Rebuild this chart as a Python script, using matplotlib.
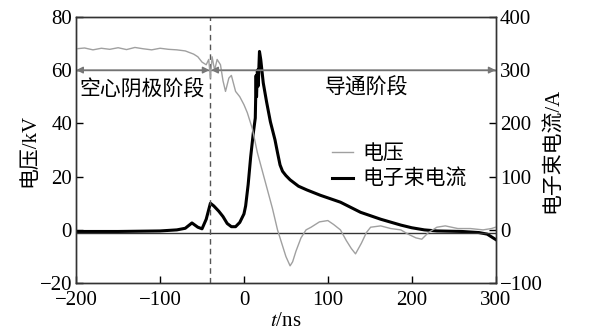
import matplotlib
matplotlib.use("Agg")
import matplotlib.pyplot as plt
from matplotlib.font_manager import FontProperties

plt.rcParams['font.family'] = ['Liberation Serif', 'Noto Sans CJK SC', 'DejaVu Sans']
plt.rcParams['mathtext.fontset'] = 'stix'
plt.rcParams['axes.unicode_minus'] = True

# ---- data ----
t_voltage = [-200, -190, -180, -170, -160, -150, -140, -130, -120, -110, -100, -90, -80,
             -70, -60, -55, -50, -45, -42, -40, -38, -35, -32, -28, -25, -22, -18, -15,
             -10, -5, 0, 4, 10, 16, 22, 28, 34, 40, 45, 50, 55, 58, 62, 68, 74, 80, 90,
             100, 107, 115, 122, 128, 133, 140, 146, 151, 163, 175, 187, 195, 205, 212,
             220, 230, 240, 255, 270, 285, 295, 300]
voltage_kV = [68, 68.3, 67.6, 68.2, 67.8, 68.4, 67.7, 68.5, 68.0, 67.6, 68.2, 67.8, 67.6,
              67.2, 66, 65, 63, 62, 64, 57, 65, 60, 64, 62, 56, 52, 57, 58,
              52, 50, 47, 44, 38, 29, 22, 15, 8, 0, -5, -10, -13.5, -12, -8, -3, 0, 1, 3,
              3.5, 2, 0, -4, -7, -9, -5, -1, 1, 1.5, 0.5, 0, -1.5, -3, -3.5,
              -1, 1, 1.5, 0.5, 0.5, 0, 0.5, 1]

t_current = [-200, -150, -100, -80, -70, -62, -55, -50, -45, -40, -36, -30, -25, -20, -15,
             -10, -5, 0, 2, 5, 8, 11, 13.5, 14.5, 15, 16, 17, 18.5, 20, 23, 27, 31.5, 37, 40,
             43, 46, 50, 55, 60, 65, 75, 91, 115, 139, 163, 187, 200, 215, 230, 260, 280,
             290, 300]
current_A = [-3, -3, -2, 0, 3, 13, 5, 2, 20, 50, 45, 35, 25, 12, 6,
             6, 14, 30, 45, 85, 137, 180, 210, 290, 250, 300, 270, 335, 320, 276, 240, 203, 169,
             145, 122, 110, 102, 94, 88, 82, 75, 65, 52, 33, 20, 9, 4, 0, -2, -3, -5,
             -8, -18]

x_ticks = [-200, -100, 0, 100, 200, 300]
y_left_ticks = [-20, 0, 20, 40, 60, 80]
y_right_ticks = [-100, 0, 100, 200, 300, 400]
stage_split = -40
stage_level = 60

cjk = ['Noto Sans CJK SC', 'DejaVu Sans']
fs = 15

fig = plt.figure(figsize=(6, 3.3), dpi=100)
ax = fig.add_axes([0.127, 0.142, 0.699, 0.807])
ax2 = ax.twinx()

ax.set_xlim(-200, 300)
ax.set_ylim(-20, 80)
ax2.set_ylim(-100, 400)

# reference lines
ax.axhline(-1, color='#333333', lw=1.0, zorder=1)
ax.axvline(stage_split, color='#555555', lw=1.0, ls=(0, (4, 3)), zorder=1)
ax.axhline(stage_level, color='#666666', lw=1.0, zorder=1)

arrow_kw = dict(arrowstyle='<|-|>', color='#777777', lw=1.0, mutation_scale=10,
                shrinkA=0, shrinkB=0)
ax.annotate('', xy=(-200, stage_level), xytext=(stage_split - 1, stage_level),
            arrowprops=arrow_kw)
ax.annotate('', xy=(stage_split + 1, stage_level), xytext=(300, stage_level),
            arrowprops=arrow_kw)

# curves
l1, = ax.plot(t_voltage, voltage_kV, color='#a0a0a0', lw=1.0, zorder=2, label='电压')
l2, = ax2.plot(t_current, current_A, color='black', lw=2.2, zorder=3, label='电子束电流')

ax.set_zorder(ax2.get_zorder() + 1)
ax.patch.set_visible(False)

# stage texts
ax.text(-121, 52.6, '空心阴极阶段', family=cjk, fontsize=fs, ha='center', va='center')
ax.text(146, 53.3, '导通阶段', family=cjk, fontsize=fs, ha='center', va='center')

# ticks
ax.set_xticks(x_ticks)
ax.set_yticks(y_left_ticks)
ax2.set_yticks(y_right_ticks)
for a in (ax, ax2):
    a.tick_params(direction='in', length=5, width=1, labelsize=fs, pad=3)
ax.tick_params(axis='x', pad=6)
ax.tick_params(top=False)
for a in (ax, ax2):
    for s in a.spines.values():
        s.set_color('#333333')
        s.set_linewidth(1.0)

ax.set_xlabel(r'$t$/ns', fontsize=fs, labelpad=1)
ax.set_ylabel('电压/kV', fontsize=fs, labelpad=0)
ax2.set_ylabel('电子束电流/A', fontsize=fs, labelpad=0, rotation=90)

leg = ax.legend(handles=[l1, l2], loc='upper left', bbox_to_anchor=(0.611, 0.53),
                frameon=False, prop=FontProperties(family=cjk, size=fs),
                handlelength=1.0, handletextpad=0.45, labelspacing=0.2,
                borderpad=0, borderaxespad=0)

fig.savefig('out.png', dpi=100, facecolor='white')
